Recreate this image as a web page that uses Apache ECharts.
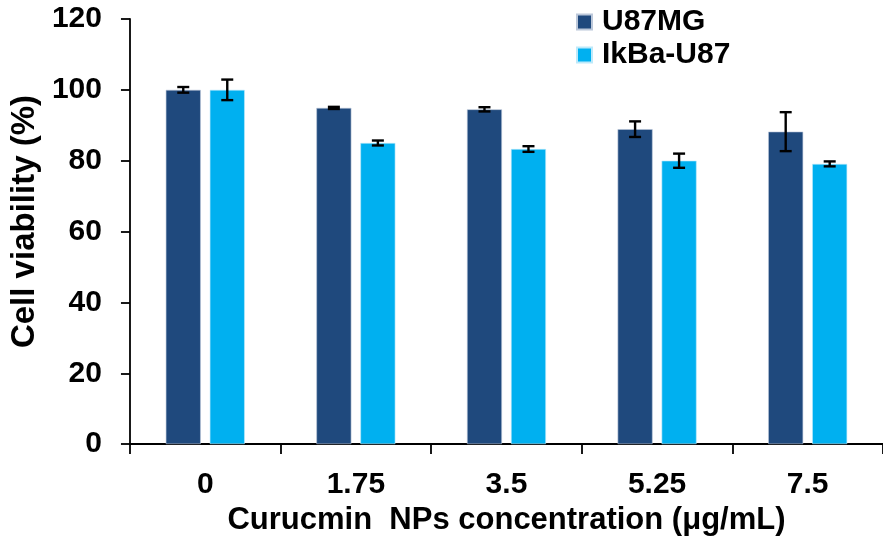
<!DOCTYPE html>
<html>
<head>
<meta charset="utf-8">
<script src="https://cdn.jsdelivr.net/npm/echarts@6/dist/echarts.min.js"></script>
<style>
html,body{margin:0;padding:0;background:#fff;}
#chart{width:883px;height:541px;}
</style>
</head>
<body>
<div id="chart"></div>
<script>
var categories = ['0', '1.75', '3.5', '5.25', '7.5'];
var seriesNames = ['U87MG', 'IkBa-U87'];
var u87mg = [100, 94.9, 94.5, 88.9, 88.2];
var u87mgErr = [0.8, 0.3, 0.6, 2.2, 5.5];
var ikba = [100, 85.0, 83.3, 80.0, 79.1];
var ikbaErr = [2.9, 0.7, 0.8, 2.0, 0.7];
var yTicks = [0, 20, 40, 60, 80, 100, 120];

var FONT = '"Liberation Sans", Arial, sans-serif';
var BAR_W = 35, BAR_GAP = 9;

function errData(vals, errs) {
  return vals.map(function (v, i) { return [i, v, v - errs[i], v + errs[i]]; });
}
function errSeries(vals, errs, side) {
  return {
    type: 'custom',
    data: errData(vals, errs),
    z: 10,
    silent: true,
    renderItem: function (params, api) {
      var idx = api.value(0);
      var lo = api.coord([idx, api.value(2)]);
      var hi = api.coord([idx, api.value(3)]);
      var x = lo[0] + side * (BAR_W + BAR_GAP) / 2;
      var hw = 6;
      var st = { stroke: '#000', lineWidth: 2.4 };
      return {
        type: 'group',
        children: [
          { type: 'line', shape: { x1: x, y1: lo[1], x2: x, y2: hi[1] }, style: st },
          { type: 'line', shape: { x1: x - hw, y1: lo[1], x2: x + hw, y2: lo[1] }, style: st },
          { type: 'line', shape: { x1: x - hw, y1: hi[1], x2: x + hw, y2: hi[1] }, style: st }
        ]
      };
    }
  };
}

var chart = echarts.init(document.getElementById('chart'), null, { renderer: 'canvas' });
chart.setOption({
  animation: false,
  backgroundColor: '#fff',
  textStyle: { fontFamily: FONT },
  legend: {
    data: seriesNames,
    orient: 'vertical',
    left: 571,
    top: 2,
    itemWidth: 15,
    itemHeight: 15,
    itemGap: 3,
    icon: 'rect',
    textStyle: { fontFamily: FONT, fontSize: 30, fontWeight: 'bold', color: '#000', padding: [0, 0, 0, 5] }
  },
  grid: { left: 119, right: -9, top: 19, bottom: 89, containLabel: false },
  xAxis: {
    type: 'category',
    data: categories,
    axisLine: { lineStyle: { color: '#000', width: 1.8 } },
    axisTick: { show: true, length: 10, lineStyle: { color: '#000', width: 1.8 } },
    axisLabel: { margin: 26, color: '#000', fontFamily: FONT, fontSize: 30, fontWeight: 'bold' },
    name: 'Curucmin  NPs concentration (\u03bcg/mL)',
    nameLocation: 'middle',
    nameGap: 52,
    nameTextStyle: { color: '#000', fontFamily: FONT, fontSize: 31, fontWeight: 'bold' }
  },
  yAxis: {
    type: 'value',
    min: 0,
    max: 120,
    interval: 20,
    splitLine: { show: false },
    axisLine: { show: true, lineStyle: { color: '#000', width: 1.8 } },
    axisTick: { show: true, length: 9, lineStyle: { color: '#000', width: 1.8 } },
    axisLabel: { margin: 28, color: '#000', fontFamily: FONT, fontSize: 30, fontWeight: 'bold' },
    name: 'Cell viability (%)',
    nameLocation: 'middle',
    nameGap: 76,
    nameRotate: 90,
    nameTextStyle: { color: '#000', fontFamily: FONT, fontSize: 33, fontWeight: 'bold', padding: [0, 0, 0, 20] }
  },
  series: [
    {
      name: seriesNames[0], type: 'bar', data: u87mg,
      barWidth: BAR_W, barGap: (BAR_GAP / BAR_W * 100) + '%',
      itemStyle: { color: '#1F497D', borderColor: '#BCC8DA', borderWidth: 0.6 }
    },
    {
      name: seriesNames[1], type: 'bar', data: ikba,
      barWidth: BAR_W,
      itemStyle: { color: '#00B0F0', borderColor: '#BDE9FA', borderWidth: 0.6 }
    },
    errSeries(u87mg, u87mgErr, -1),
    errSeries(ikba, ikbaErr, 1)
  ]
});
</script>
</body>
</html>
